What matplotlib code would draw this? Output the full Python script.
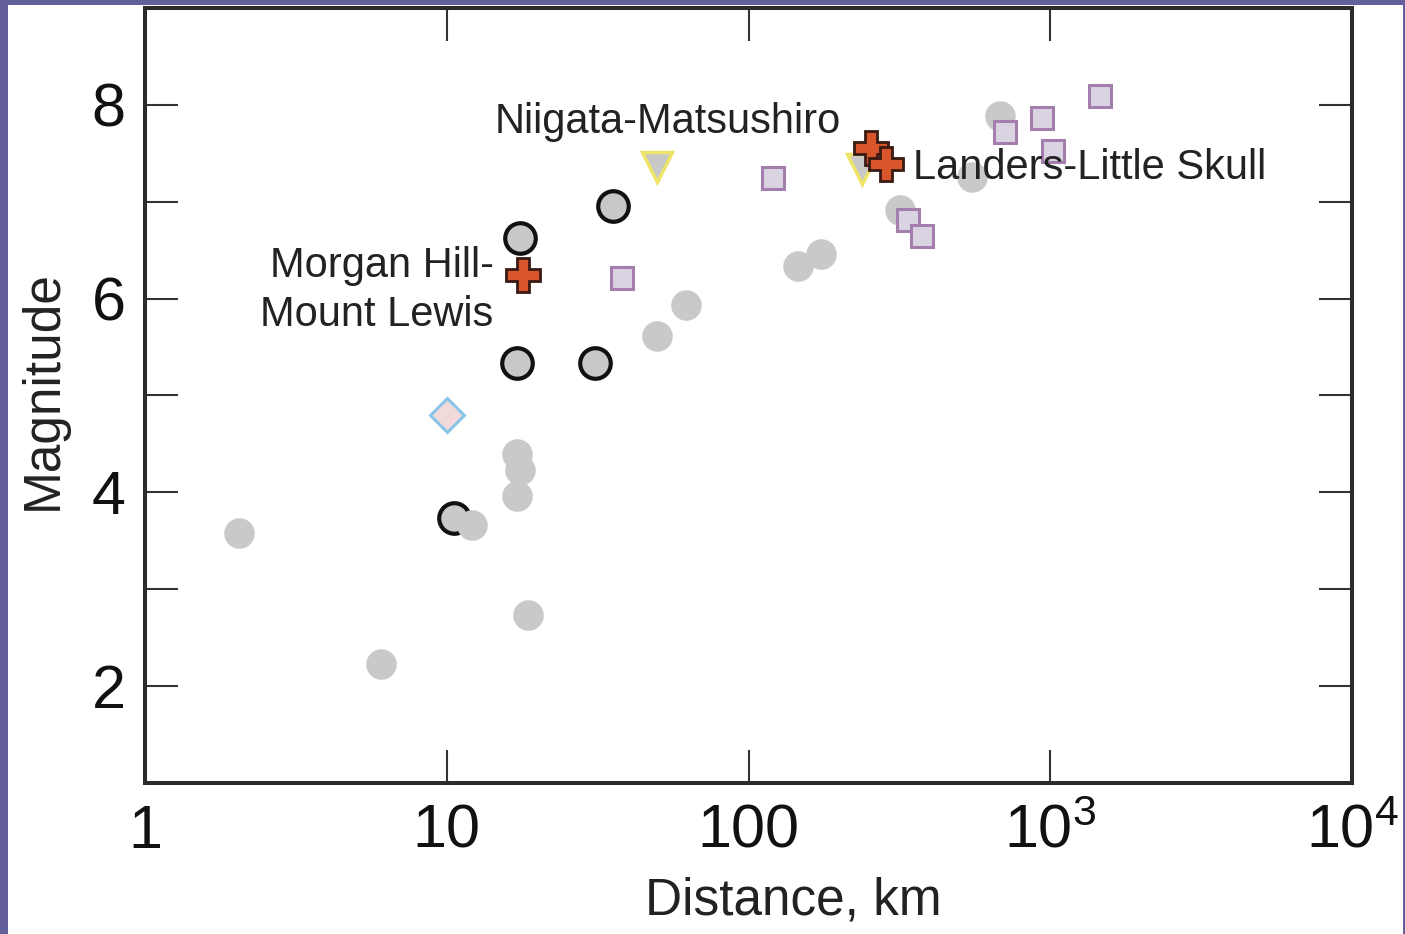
import matplotlib
matplotlib.use("Agg")
import matplotlib.pyplot as plt
from matplotlib.patches import Rectangle

plt.rcParams['font.family'] = ['Liberation Sans', 'DejaVu Sans']

# events without a confirmed link (grey dots)
gray_dist = [2.05, 6.05, 12.1, 17.1, 17.5, 17.1, 18.6, 49.7, 62.1, 146, 174, 318, 550, 681]
gray_mag = [3.58, 2.23, 3.66, 4.40, 4.23, 3.96, 2.73, 5.61, 5.93, 6.34, 6.46, 6.91, 7.26, 7.88]

# outlined circles
ring_dist = [17.5, 35.6, 17.1, 31.0, 10.6]
ring_mag = [6.63, 6.96, 5.33, 5.33, 3.74]

# down triangles
tri_dist = [49.7, 238]
tri_mag = [7.36, 7.34]

# squares
sq_dist = [38.1, 121, 338, 376, 708, 939, 1021, 1462]
sq_mag = [6.21, 7.24, 6.81, 6.65, 7.72, 7.86, 7.52, 8.09]

# crosses (named cases)
cross_dist = [17.9, 255, 286]
cross_mag = [6.24, 7.55, 7.39]

# diamond
dia_dist = [10.0]
dia_mag = [4.80]

xticks = [1, 10, 100, 1000, 10000]
xticklabels = ['1', '10', '100', r'$\mathregular{10^3}$', r'$\mathregular{10^4}$']

fig = plt.figure(figsize=(14.05, 9.34), dpi=100, facecolor='#625f9c')
# white panel inside the purple frame
fig.patches.append(Rectangle((8 / 1405, 0), 1395 / 1405, 929 / 934,
                             transform=fig.transFigure, facecolor='white',
                             edgecolor='none', zorder=-10))
ax = fig.add_axes([0.1032, 0.1617, 0.8591, 0.8298])
ax.set_facecolor('white')

ax.plot(ring_dist, ring_mag, 'o', ms=22, mfc='#c8c8c8', mec='#111111', mew=3, zorder=2)
ax.plot(gray_dist, gray_mag, 'o', ms=22, mfc='#c9c9c9', mec='none', zorder=3)
ax.plot(tri_dist, tri_mag, 'v', ms=22, mfc='#c8c8c8', mec='#eee46a', mew=2.5, zorder=4)
ax.plot(sq_dist, sq_mag, 's', ms=16, mfc='#d9d3e2', mec='#a47fad', mew=2.2, zorder=5)
ax.plot(dia_dist, dia_mag, 'D', ms=17, mfc='#f2dada', mec='#8cc6e6', mew=2.2, zorder=5)
ax.plot(cross_dist, cross_mag, 'P', ms=24, mfc='#d9562c', mec='#3a1a12', mew=2, zorder=7)

txt = dict(fontsize=30, color='#222222', zorder=8)
ax.text(54.1, 7.82, 'Niigata-Matsushiro', ha='center', va='center', **txt)
ax.text(351, 7.35, 'Landers-Little Skull', ha='left', va='center', **txt)
ax.text(14.3, 6.08, 'Morgan Hill-\nMount Lewis', ha='right', va='center',
        multialignment='right', linespacing=1.3, **txt)

ax.set_xscale('log')
ax.set_xlim(1, 10000)
ax.set_ylim(1, 9)
ax.set_xticks(xticks)
ax.set_xticklabels(xticklabels)
ax.xaxis.set_minor_locator(matplotlib.ticker.NullLocator())
ax.set_yticks([2, 4, 6, 8])
ax.set_yticks([3, 5, 7], minor=True)

for side in ax.spines.values():
    side.set_linewidth(2.9)
    side.set_color('#2b2b2b')

ax.tick_params(which='both', direction='in', length=24, width=1.5, color='#333333',
               top=True, right=True, labelsize=44, labelcolor='#111111')
ax.tick_params(axis='x', pad=15)
ax.tick_params(axis='y', pad=14)

ax.set_xlabel('Distance, km', fontsize=37, color='#222222')
ax.set_ylabel('Magnitude', fontsize=37, color='#222222')
ax.xaxis.set_label_coords(0.537, -0.121)
ax.yaxis.set_label_coords(-0.064, 0.507)

fig.savefig('out.png', dpi=100, facecolor=fig.get_facecolor())
